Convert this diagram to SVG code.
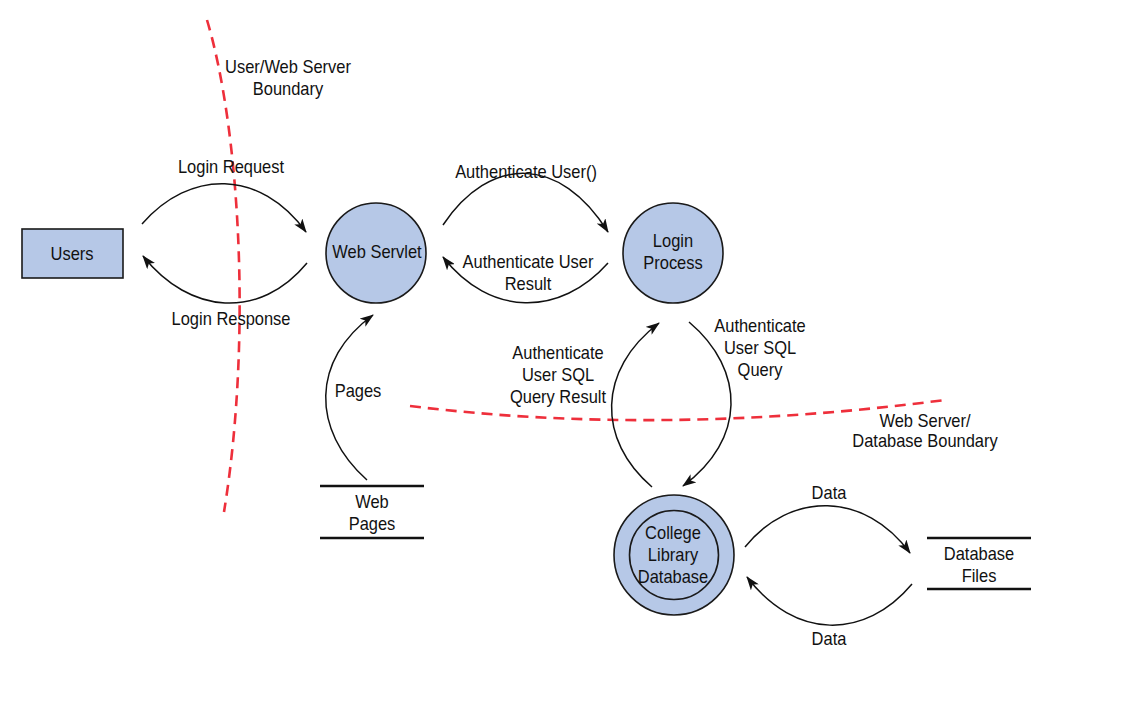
<svg xmlns="http://www.w3.org/2000/svg" width="1145" height="709" viewBox="0 0 1145 709">
<style>
text{font-family:"Liberation Sans",Arial,sans-serif;font-size:18.5px;fill:#111;text-anchor:middle}
.node{fill:#b6c8e7;stroke:#1a1a1a;stroke-width:1.6}
.flow{fill:none;stroke:#111;stroke-width:1.5;marker-end:url(#arr)}
.bound{fill:none;stroke:#ee2f3b;stroke-width:2.6;stroke-dasharray:11 7}
.store{stroke:#111;stroke-width:2.6}
</style>
<defs>
<marker id="arr" viewBox="0 0 14 10" refX="13" refY="5" markerWidth="14" markerHeight="10" markerUnits="userSpaceOnUse" orient="auto">
<path d="M0,0 L14,5 L0,10 L3.5,5 z" fill="#111"/>
</marker>
</defs>
<rect width="1145" height="709" fill="#fff"/>

<g id="boundaries">
<path class="bound" d="M207,20 C240,130 252,340 224,512"/>
<path class="bound" d="M410,406 Q660,437 945,400"/>
<text transform="translate(288,73) scale(0.89,1)">User/Web Server</text>
<text transform="translate(288,95) scale(0.89,1)">Boundary</text>
<text transform="translate(925,427) scale(0.89,1)">Web Server/</text>
<text transform="translate(925,447) scale(0.89,1)">Database Boundary</text>
</g>

<g id="connectors">
<path class="flow" d="M142,224 C190,169 260,169 306,232"/>
<path class="flow" d="M307,263 C260,320 190,315 143,256"/>
<path class="flow" d="M443,225 C490,155 560,155 608,232"/>
<path class="flow" d="M608,263 C560,317 490,317 443,257"/>
<path class="flow" d="M367,480 C311,430 311,360 373,315"/>
<path class="flow" d="M652,487 C597,440 597,370 659,323"/>
<path class="flow" d="M689,322 C746,370 746,440 683,486"/>
<path class="flow" d="M745,547 C790,491 865,491 910,553"/>
<path class="flow" d="M912,584 C865,640 795,640 747,577"/>
<text transform="translate(231,173) scale(0.89,1)">Login Request</text>
<text transform="translate(231,325) scale(0.89,1)">Login Response</text>
<text transform="translate(526,178) scale(0.89,1)">Authenticate User()</text>
<text transform="translate(528,268) scale(0.89,1)">Authenticate User</text>
<text transform="translate(528,290) scale(0.89,1)">Result</text>
<text transform="translate(358,397) scale(0.89,1)">Pages</text>
<text transform="translate(558,359) scale(0.89,1)">Authenticate</text>
<text transform="translate(558,381) scale(0.89,1)">User SQL</text>
<text transform="translate(558,403) scale(0.89,1)">Query Result</text>
<text transform="translate(760,332) scale(0.89,1)">Authenticate</text>
<text transform="translate(760,354) scale(0.89,1)">User SQL</text>
<text transform="translate(760,376) scale(0.89,1)">Query</text>
<text transform="translate(829,499) scale(0.89,1)">Data</text>
<text transform="translate(829,645) scale(0.89,1)">Data</text>
</g>

<g id="users">
<rect class="node" x="22" y="229" width="101" height="49"/>
<text transform="translate(72,260) scale(0.89,1)">Users</text>
</g>

<g id="web-servlet">
<circle class="node" cx="376" cy="253" r="50"/>
<text transform="translate(377,258) scale(0.89,1)">Web Servlet</text>
</g>

<g id="login-process">
<circle class="node" cx="673" cy="253" r="50"/>
<text transform="translate(673,247) scale(0.89,1)">Login</text>
<text transform="translate(673,269) scale(0.89,1)">Process</text>
</g>

<g id="college-library-database">
<circle class="node" cx="674" cy="555" r="60"/>
<circle class="node" cx="674" cy="555" r="44.5"/>
<text transform="translate(673,539) scale(0.89,1)">College</text>
<text transform="translate(673,561) scale(0.89,1)">Library</text>
<text transform="translate(673,583) scale(0.89,1)">Database</text>
</g>

<g id="web-pages">
<line class="store" x1="320" y1="486" x2="424" y2="486"/>
<line class="store" x1="320" y1="538" x2="424" y2="538"/>
<text transform="translate(372,508) scale(0.89,1)">Web</text>
<text transform="translate(372,530) scale(0.89,1)">Pages</text>
</g>

<g id="database-files">
<line class="store" x1="927" y1="538" x2="1031" y2="538"/>
<line class="store" x1="927" y1="589" x2="1031" y2="589"/>
<text transform="translate(979,560) scale(0.89,1)">Database</text>
<text transform="translate(979,582) scale(0.89,1)">Files</text>
</g>
</svg>
